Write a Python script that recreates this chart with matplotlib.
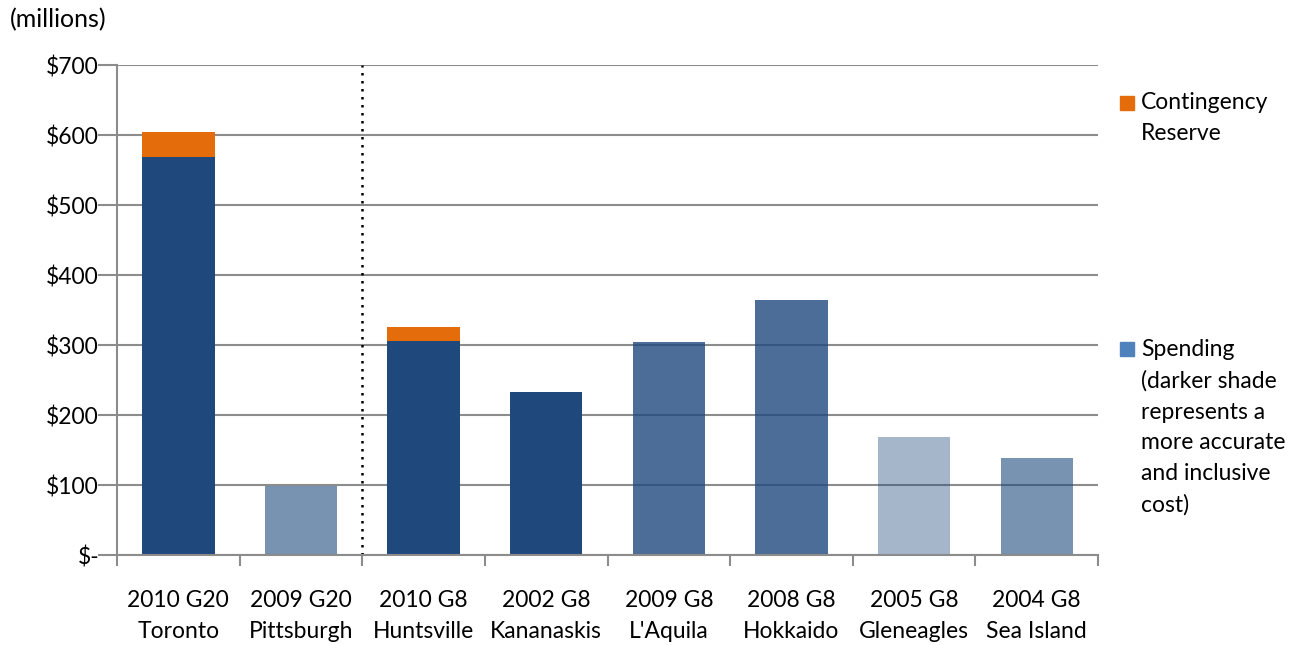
import matplotlib
matplotlib.use("Agg")
import matplotlib.pyplot as plt
from matplotlib.patches import Rectangle
import numpy as np

categories = ["2010 G20\nToronto", "2009 G20\nPittsburgh", "2010 G8\nHuntsville",
              "2002 G8\nKananaskis", "2009 G8\nL'Aquila", "2008 G8\nHokkaido",
              "2005 G8\nGleneagles", "2004 G8\nSea Island"]
spending = [569, 98, 306, 233, 305, 365, 168, 139]
contingency = [36, 0, 20, 0, 0, 0, 0, 0]
shade_alpha = [1.0, 0.6, 1.0, 1.0, 0.8, 0.8, 0.4, 0.6]
yticks = [0, 100, 200, 300, 400, 500, 600, 700]
ytick_labels = ["$-", "$100", "$200", "$300", "$400", "$500", "$600", "$700"]

plt.rcParams['font.family'] = ['Lato', 'DejaVu Sans']
FS = 16.5

fig = plt.figure(figsize=(13.09, 6.45), dpi=100)
ax = fig.add_axes([0.0894, 0.1395, 0.7494, 0.7595])

base = (31/255, 73/255, 125/255)
orange = "#E46C0A"
x = np.arange(len(categories))
for i in range(len(categories)):
    ax.bar(x[i], spending[i], width=0.59, color=base, alpha=shade_alpha[i], zorder=3, linewidth=0)
ax.bar(x, contingency, bottom=spending, width=0.59, color=orange, zorder=3, linewidth=0)

ax.set_xlim(-0.5, len(categories) - 0.5)
ax.set_ylim(0, 700)
ax.set_yticks(yticks)
ax.set_yticklabels(ytick_labels, fontsize=FS)
ax.yaxis.grid(True, color="#8C8C8C", linewidth=1.5, zorder=1)
ax.set_axisbelow(True)

ax.set_xticks(x)
ax.set_xticklabels(categories, fontsize=FS, linespacing=1.6)
ax.tick_params(axis='x', length=0, pad=25)
ax.set_xticks(np.arange(-0.5, len(categories)), minor=True)
ax.tick_params(axis='x', which='minor', length=8, width=1.5, color="#8C8C8C", direction='out')
ax.tick_params(axis='y', length=14, width=1.5, color="#8C8C8C", direction='out', pad=-1)

for s in ['top', 'right']:
    ax.spines[s].set_visible(False)
ax.spines['left'].set_color("#8C8C8C")
ax.spines['left'].set_linewidth(1.5)
ax.spines['bottom'].set_color("#8C8C8C")
ax.spines['bottom'].set_linewidth(1.5)
ax.spines['bottom'].set_zorder(4)

ax.axvline(1.5, color="black", linestyle=(0, (1, 2.2)), linewidth=1.8, zorder=4)

fig.text(0.0076, 1 - 20/645, "(millions)", fontsize=18, ha='left', va='center')

# legend
fig.patches.append(Rectangle((1120/1309, 1 - 110/645), 14/1309, 14/645,
                             transform=fig.transFigure, color=orange, figure=fig))
fig.text(1141/1309, 1 - 92/645, "Contingency\nReserve", fontsize=FS, ha='left', va='top',
         linespacing=1.58)
fig.patches.append(Rectangle((1120/1309, 1 - 356/645), 14/1309, 14/645,
                             transform=fig.transFigure, color="#4F81BD", figure=fig))
fig.text(1141/1309, 1 - 339/645,
         "Spending\n(darker shade\nrepresents a\nmore accurate\nand inclusive\ncost)",
         fontsize=FS, ha='left', va='top', linespacing=1.58)

fig.savefig("out.png", dpi=100)
